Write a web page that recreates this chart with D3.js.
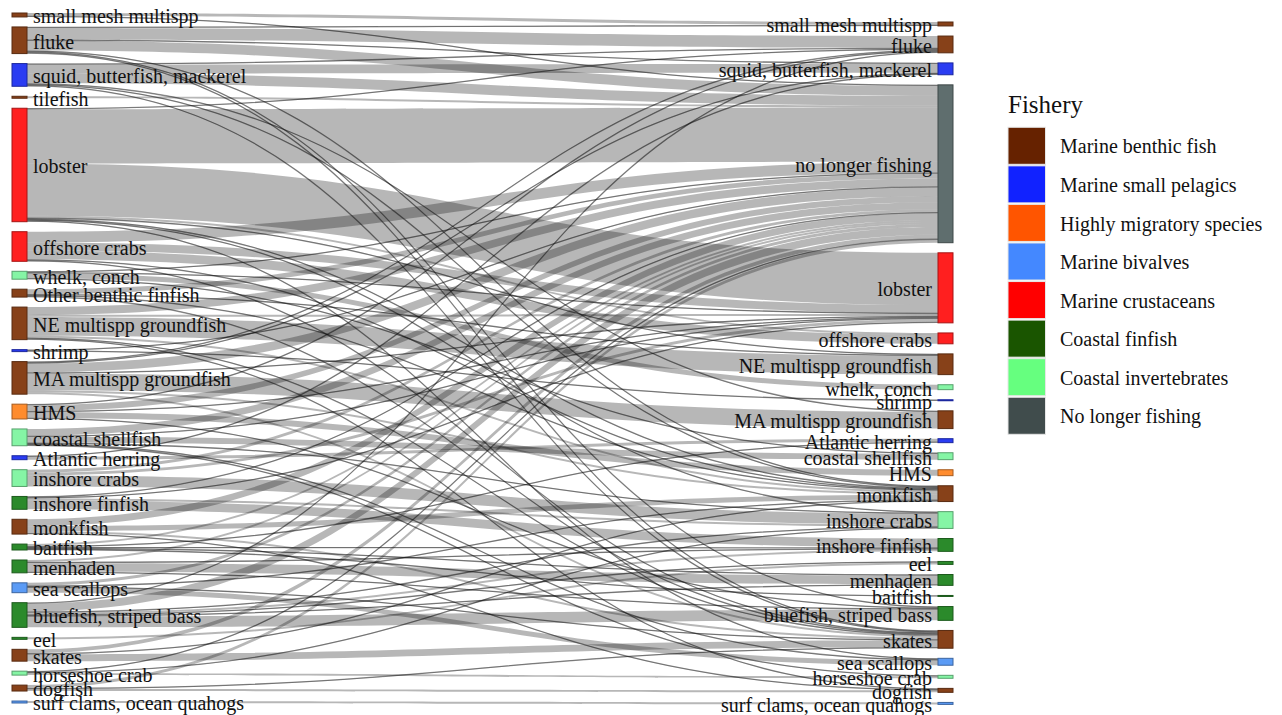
<!DOCTYPE html>
<html><head><meta charset="utf-8">
<script src="https://cdn.jsdelivr.net/npm/d3@7"></script>
<style>body{margin:0;background:#fff} svg{display:block} text{font-family:"Liberation Serif","DejaVu Serif",serif}</style>
</head><body>
<svg id="chart" width="1282" height="715"></svg>
<script>
// ---------- DATA ----------
const fisheries = ["Marine benthic fish","Marine small pelagics","Highly migratory species","Marine bivalves","Marine crustaceans","Coastal finfish","Coastal invertebrates","No longer fishing"];
const legendColors = ["#662200","#1122ff","#ff5500","#4488ff","#ff0000","#1a5500","#66ff7f","#404c4c"];
const nodeColors = ["#874119","#2a3cf2","#ff8c2e","#5b9bf5","#ff1f1f","#2b8a2b","#85f5a5","#5f6e6e"];

const leftNodes = ["small mesh multispp","fluke","squid, butterfish, mackerel","tilefish","lobster","offshore crabs","whelk, conch","Other benthic finfish","NE multispp groundfish","shrimp","MA multispp groundfish","HMS","coastal shellfish","Atlantic herring","inshore crabs","inshore finfish","monkfish","baitfish","menhaden","sea scallops","bluefish, striped bass","eel","skates","horseshoe crab","dogfish","surf clams, ocean quahogs"];
const rightNodes = ["small mesh multispp","fluke","squid, butterfish, mackerel","no longer fishing","lobster","offshore crabs","NE multispp groundfish","whelk, conch","shrimp","MA multispp groundfish","Atlantic herring","coastal shellfish","HMS","monkfish","inshore crabs","inshore finfish","eel","menhaden","baitfish","bluefish, striped bass","skates","sea scallops","horseshoe crab","dogfish","surf clams, ocean quahogs"];

// fishery group of each species (index into fisheries)
const groupNames = ["small mesh multispp","fluke","tilefish","Other benthic finfish","NE multispp groundfish","MA multispp groundfish","monkfish","skates","dogfish",
  "squid, butterfish, mackerel","shrimp","Atlantic herring",
  "HMS",
  "sea scallops","surf clams, ocean quahogs",
  "lobster","offshore crabs",
  "inshore finfish","baitfish","menhaden","bluefish, striped bass","eel",
  "whelk, conch","coastal shellfish","inshore crabs","horseshoe crab",
  "no longer fishing"];
const groupIndex = [0,0,0,0,0,0,0,0,0, 1,1,1, 2, 3,3, 4,4, 5,5,5,5,5, 6,6,6,6, 7];

// flows: [from (left), to (right), value]
const flows = [
["small mesh multispp","small mesh multispp",3],
["small mesh multispp","no longer fishing",1],
["fluke","small mesh multispp",1],
["fluke","fluke",12],
["fluke","squid, butterfish, mackerel",1],
["fluke","no longer fishing",10],
["fluke","monkfish",1],
["fluke","bluefish, striped bass",1],
["fluke","skates",1],
["squid, butterfish, mackerel","fluke",1],
["squid, butterfish, mackerel","squid, butterfish, mackerel",9],
["squid, butterfish, mackerel","no longer fishing",10],
["squid, butterfish, mackerel","MA multispp groundfish",1],
["squid, butterfish, mackerel","monkfish",1],
["squid, butterfish, mackerel","skates",1],
["tilefish","no longer fishing",2],
["lobster","fluke",1],
["lobster","no longer fishing",55],
["lobster","lobster",53],
["lobster","offshore crabs",2],
["lobster","NE multispp groundfish",1],
["lobster","monkfish",1],
["lobster","inshore crabs",1],
["lobster","sea scallops",1],
["offshore crabs","no longer fishing",11],
["offshore crabs","lobster",8],
["offshore crabs","offshore crabs",9],
["offshore crabs","monkfish",1],
["offshore crabs","skates",1],
["whelk, conch","no longer fishing",1],
["whelk, conch","lobster",1],
["whelk, conch","whelk, conch",5],
["whelk, conch","coastal shellfish",1],
["Other benthic finfish","no longer fishing",5],
["Other benthic finfish","NE multispp groundfish",1],
["Other benthic finfish","monkfish",1],
["Other benthic finfish","skates",1],
["NE multispp groundfish","no longer fishing",8],
["NE multispp groundfish","lobster",2],
["NE multispp groundfish","NE multispp groundfish",19],
["NE multispp groundfish","monkfish",2],
["NE multispp groundfish","skates",1],
["NE multispp groundfish","dogfish",1],
["shrimp","no longer fishing",1],
["shrimp","shrimp",1],
["MA multispp groundfish","fluke",1],
["MA multispp groundfish","squid, butterfish, mackerel",1],
["MA multispp groundfish","no longer fishing",9],
["MA multispp groundfish","lobster",1],
["MA multispp groundfish","MA multispp groundfish",17],
["MA multispp groundfish","monkfish",2],
["MA multispp groundfish","skates",2],
["HMS","fluke",1],
["HMS","no longer fishing",6],
["HMS","lobster",1],
["HMS","HMS",6],
["HMS","bluefish, striped bass",1],
["coastal shellfish","no longer fishing",7],
["coastal shellfish","lobster",1],
["coastal shellfish","coastal shellfish",6],
["coastal shellfish","inshore crabs",1],
["coastal shellfish","sea scallops",1],
["coastal shellfish","horseshoe crab",1],
["Atlantic herring","squid, butterfish, mackerel",1],
["Atlantic herring","Atlantic herring",3],
["inshore crabs","no longer fishing",3],
["inshore crabs","lobster",3],
["inshore crabs","inshore crabs",11],
["inshore finfish","no longer fishing",1],
["inshore finfish","lobster",1],
["inshore finfish","inshore crabs",2],
["inshore finfish","inshore finfish",9],
["monkfish","no longer fishing",7],
["monkfish","monkfish",5],
["monkfish","skates",2],
["monkfish","dogfish",1],
["baitfish","no longer fishing",2],
["baitfish","Atlantic herring",1],
["baitfish","inshore finfish",1],
["baitfish","menhaden",1],
["baitfish","baitfish",1],
["menhaden","no longer fishing",2],
["menhaden","inshore finfish",1],
["menhaden","menhaden",9],
["menhaden","bluefish, striped bass",1],
["sea scallops","no longer fishing",3],
["sea scallops","monkfish",1],
["sea scallops","skates",1],
["sea scallops","sea scallops",5],
["bluefish, striped bass","fluke",1],
["bluefish, striped bass","no longer fishing",8],
["bluefish, striped bass","inshore crabs",1],
["bluefish, striped bass","inshore finfish",2],
["bluefish, striped bass","eel",1],
["bluefish, striped bass","menhaden",1],
["bluefish, striped bass","bluefish, striped bass",11],
["eel","eel",2],
["skates","no longer fishing",4],
["skates","monkfish",1],
["skates","skates",7],
["horseshoe crab","no longer fishing",1],
["horseshoe crab","inshore crabs",1],
["horseshoe crab","horseshoe crab",2],
["dogfish","no longer fishing",3],
["dogfish","skates",1],
["dogfish","dogfish",2],
["surf clams, ocean quahogs","surf clams, ocean quahogs",2]
];

// ---------- LAYOUT ----------
const svg = d3.select("#chart");
const nodeW = 15;
const pad = {left: 10, right: 10.1};
const xScale = d3.scaleOrdinal().domain(["left","right"]).range([12, 938]);
const colTop = {left: 13, right: 22};
const leftBottom = 703;

const groupOf = new Map(groupNames.map((n,i)=>[n, groupIndex[i]]));
const color = d3.scaleOrdinal().domain(d3.range(fisheries.length)).range(nodeColors);

function makeCol(names, side){
  return names.map(n => ({name:n, side, group: groupOf.get(n), value:0, out:[], inn:[]}));
}
const L = makeCol(leftNodes, "left");
const R = makeCol(rightNodes, "right");
const Lm = new Map(L.map(d=>[d.name,d])), Rm = new Map(R.map(d=>[d.name,d]));
const links = flows.map(([s,t,v])=>({source:Lm.get(s), target:Rm.get(t), value:v}));
links.forEach(l=>{ l.source.out.push(l); l.target.inn.push(l); l.source.value+=l.value; });
R.forEach(n=>{ n.value = d3.sum(n.inn, l=>l.value); });

const leftTotal = d3.sum(L, d=>d.value);
const ky = (leftBottom - colTop.left - (L.length-1)*pad.left) / leftTotal;
const h = d3.scaleLinear().domain([0, leftTotal]).range([0, leftTotal*ky]);

[L, R].forEach(col=>{
  const side = col[0].side;
  let y = colTop[side];
  col.forEach(n=>{
    n.x0 = xScale(n.side); n.x1 = n.x0 + nodeW;
    n.y0 = y; n.y1 = y + h(n.value); y = n.y1 + pad[side];
  });
});
L.forEach(n=>{
  n.out.sort((a,b)=>a.target.y0-b.target.y0);
  let y=n.y0; n.out.forEach(l=>{ l.sy0=y; y+=h(l.value); l.sy1=y; });
});
R.forEach(n=>{
  n.inn.sort((a,b)=>a.source.y0-b.source.y0);
  let y=n.y0; n.inn.forEach(l=>{ l.ty0=y; y+=h(l.value); l.ty1=y; });
});

// ---------- LINKS ----------
function ribbon(l){
  const x0 = l.source.x1, x1 = l.target.x0, xm = (x0+x1)/2;
  const p = d3.path();
  p.moveTo(x0, l.sy0);
  p.bezierCurveTo(xm, l.sy0, xm, l.ty0, x1, l.ty0);
  p.lineTo(x1, l.ty1);
  p.bezierCurveTo(xm, l.ty1, xm, l.sy1, x0, l.sy1);
  p.closePath();
  return p.toString();
}
const gLinks = svg.append("g");
gLinks.selectAll("path.ribbon").data(links).join("path")
  .attr("class","ribbon")
  .attr("d", ribbon)
  .attr("fill","#111")
  .attr("fill-opacity",0.3);
const lineGen = d3.linkHorizontal().x(d=>d[0]).y(d=>d[1]);
gLinks.selectAll("path.thin").data(links.filter(l=>l.value<=1)).join("path")
  .attr("class","thin")
  .attr("d", l=>lineGen({source:[l.source.x1,(l.sy0+l.sy1)/2], target:[l.target.x0,(l.ty0+l.ty1)/2]}))
  .attr("fill","none")
  .attr("stroke","#111")
  .attr("stroke-opacity",0.42)
  .attr("stroke-width",1.3);

// ---------- NODES ----------
const nodes = L.concat(R);
const gNodes = svg.append("g");
gNodes.selectAll("rect").data(nodes).join("rect")
  .attr("x", d=>d.x0).attr("y", d=>d.y0)
  .attr("width", nodeW).attr("height", d=>Math.max(1, d.y1-d.y0))
  .attr("fill", d=>color(d.group))
  .attr("stroke", d=>d3.rgb(color(d.group)).darker(1.2))
  .attr("stroke-width", 1);
gNodes.selectAll("text").data(nodes).join("text")
  .attr("x", d=>d.side==="left" ? d.x1+6 : d.x0-6)
  .attr("y", d=>(d.y0+d.y1)/2)
  .attr("dy","0.42em")
  .attr("text-anchor", d=>d.side==="left" ? "start" : "end")
  .attr("font-size", 20).attr("fill","#111")
  .text(d=>d.name);

// ---------- LEGEND ----------
const lg = svg.append("g").attr("transform","translate(1008,0)");
lg.append("text").attr("x",0).attr("y",113)
  .attr("font-size",25).attr("fill","#111").text("Fishery");
const ly = d3.scaleBand().domain(fisheries).range([126.5, 126.5+38.57*8]).paddingInner(0.04).paddingOuter(0.02);
const items = lg.selectAll("g.item").data(fisheries).join("g").attr("class","item");
items.append("rect").attr("x",0).attr("y",d=>ly(d)).attr("width",37.5).attr("height",ly.bandwidth())
  .attr("fill",(d,i)=>legendColors[i]).attr("stroke","#e6e6e6").attr("stroke-width",1);
items.append("text").attr("x",52).attr("y",d=>ly(d)+ly.bandwidth()/2).attr("dy","0.38em")
  .attr("font-size",20).attr("fill","#111").text(d=>d);
</script>
</body></html>
